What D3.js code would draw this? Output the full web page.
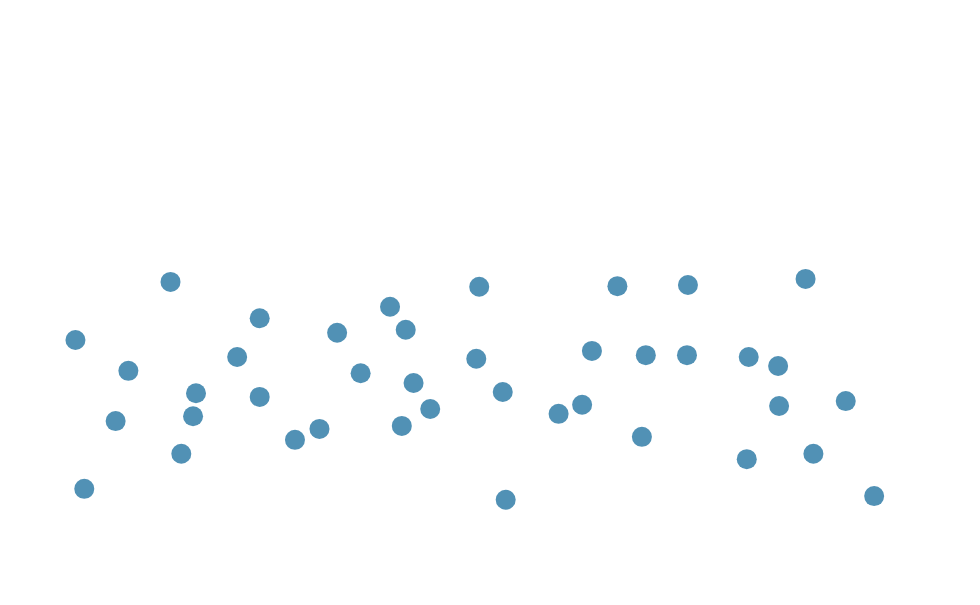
<!DOCTYPE html>
<html>
<head>
<meta charset="utf-8">
<script src="https://cdn.jsdelivr.net/npm/d3@7"></script>
<style>
  body { margin: 0; background: #fff; }
  svg { display: block; }
</style>
</head>
<body>
<div id="chart"></div>
<script>
// point values (x: 0-100 across, y: 0-100 bottom to top)
var xValues = [7.7, 8.6, 11.8, 13.1, 17.4, 18.5, 19.7, 20.0, 24.2, 26.5,
               26.5, 30.1, 32.6, 34.4, 36.8, 39.8, 41.0, 41.4, 42.2, 43.9,
               48.6, 48.9, 51.3, 51.6, 57.0, 59.4, 60.4, 63.0, 65.5, 65.9,
               70.1, 70.2, 76.2, 76.4, 79.4, 79.5, 82.2, 83.0, 86.3, 89.2];
var yValues = [43.8, 19.2, 30.4, 38.7, 53.4, 25.0, 31.2, 35.0, 41.0, 47.4,
               34.4, 27.3, 29.1, 45.0, 38.3, 49.3, 29.6, 45.5, 36.7, 32.4,
               40.7, 52.6, 35.2, 17.4, 31.6, 33.1, 42.0, 52.7, 27.8, 41.3,
               41.3, 52.9, 24.1, 41.0, 39.5, 32.9, 53.9, 25.0, 33.7, 18.0];

var width = 980, height = 605;
var gRadius = 10;

var x = d3.scaleLinear().domain([0, 100]).range([0, width]);
var y = d3.scaleLinear().domain([0, 100]).range([height, 0]);

var points = xValues.map(function(v, i) { return {x: v, y: yValues[i]}; });

var svg = d3.select("#chart").append("svg")
  .attr("width", width).attr("height", height);

svg.selectAll("circle.dot")
  .data(points)
  .enter().append("circle")
  .attr("class", "dot")
  .attr("cx", function(d) { return x(d.x); })
  .attr("cy", function(d) { return y(d.y); })
  .attr("r", gRadius)
  .style("fill", "#5191b5");
</script>
</body>
</html>
